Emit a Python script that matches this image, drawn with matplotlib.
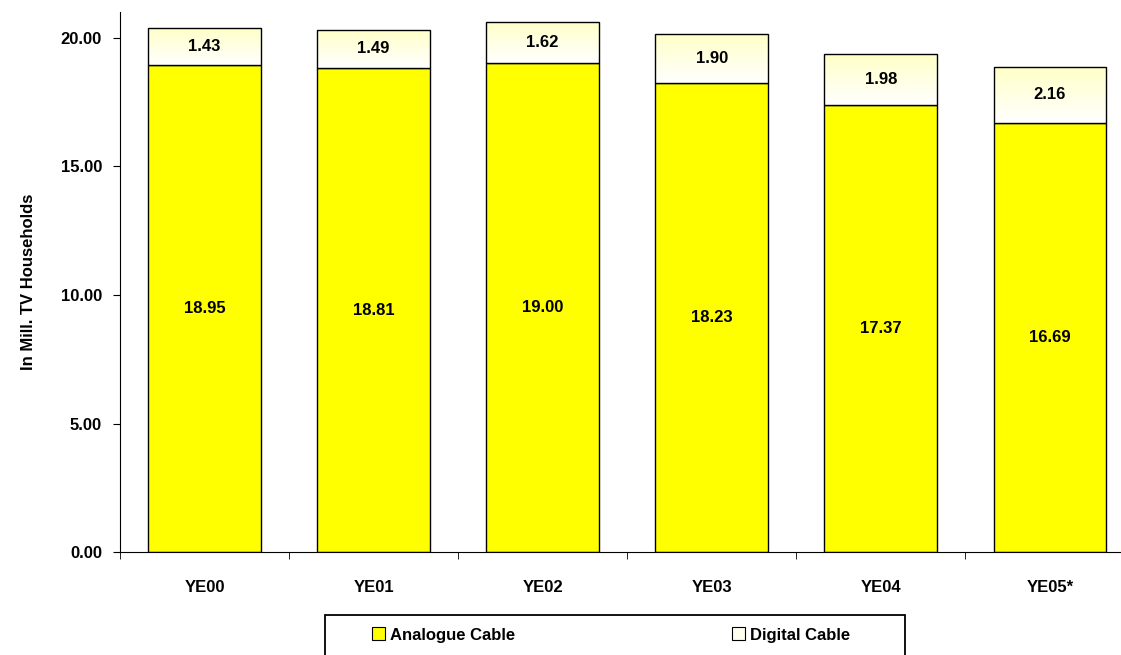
import matplotlib
matplotlib.use("Agg")
import matplotlib.pyplot as plt
import numpy as np
from matplotlib.patches import Patch, Rectangle
from matplotlib.colors import LinearSegmentedColormap

categories = ["YE00", "YE01", "YE02", "YE03", "YE04", "YE05*"]
analogue = [18.95, 18.81, 19.00, 18.23, 17.37, 16.69]
digital = [1.43, 1.49, 1.62, 1.90, 1.98, 2.16]
yticks = [0, 5, 10, 15, 20]

plt.rcParams['font.family'] = ['Liberation Sans', 'DejaVu Sans']
plt.rcParams['font.weight'] = 'bold'

W, H = 1121, 655
fig = plt.figure(figsize=(W / 100, H / 100), dpi=100)
ax = fig.add_axes([0.107, 0.157, 0.905, 0.825])

x = np.arange(len(categories))
w = 0.667
yellow = "#FFFF00"
ax.bar(x, analogue, w, color=yellow, edgecolor="black", linewidth=1.0, zorder=2)
bars_d = ax.bar(x, digital, w, bottom=analogue, color="white", edgecolor="black", linewidth=1.0, zorder=3)

grad = np.linspace(0, 1, 64).reshape(-1, 1)
cmap = LinearSegmentedColormap.from_list("g", ["#FFFFFF", "#FFFFC8"])
for b in bars_d:
    x0, y0 = b.get_x(), b.get_y()
    im = ax.imshow(grad, extent=[x0, x0 + b.get_width(), y0, y0 + b.get_height()],
                   origin="lower", cmap=cmap, aspect="auto", zorder=2.5)
    im.set_clip_path(b)
    b.set_facecolor("none")

for i in range(len(categories)):
    ax.text(x[i], analogue[i] / 2, f"{analogue[i]:.2f}", ha="center", va="center",
            fontsize=12, fontweight="bold", zorder=5)
    ax.text(x[i], analogue[i] + digital[i] / 2, f"{digital[i]:.2f}", ha="center", va="center",
            fontsize=12, fontweight="bold", zorder=5)

ax.set_xlim(-0.5, 5.46)
ax.set_ylim(0, 21)
ax.set_yticks(yticks)
ax.set_yticklabels([f"{v:.2f}" for v in yticks], fontsize=12, fontweight="bold")
ax.set_xticks(x)
ax.set_xticklabels(categories, fontsize=12, fontweight="bold")
ax.tick_params(axis="x", length=0, pad=20)
ax.set_xticks(np.arange(-0.5, 5.6, 1), minor=True)
ax.tick_params(axis="x", which="minor", length=5, direction="out")
ax.tick_params(axis="y", length=5, direction="out", pad=8)
ax.spines["top"].set_visible(False)
ax.spines["right"].set_visible(False)
ax.set_ylabel("In Mill. TV Households", fontsize=12, fontweight="bold", labelpad=18)

# legend frame
fig.patches.append(Rectangle((325 / W, -5 / H), 580 / W, 620 / H - (-5 / H) - 0 * 1, transform=fig.transFigure,
                             facecolor="white", edgecolor="black", linewidth=1.3, zorder=1))
fig.patches[-1].set_height((5 + 40) / H)
handles = [Patch(facecolor=yellow, edgecolor="black", linewidth=0.8),
           Patch(facecolor="#FFFFF0", edgecolor="black", linewidth=0.8)]
leg = fig.legend(handles, ["Analogue Cable", "Digital Cable"], loc="center left",
                 bbox_to_anchor=(372 / W, 1 - 635 / H), ncol=2, frameon=False, fontsize=12,
                 handlelength=0.8, handleheight=0.8, handletextpad=0.3, columnspacing=13.0,
                 borderaxespad=0, borderpad=0)
for t in leg.get_texts():
    t.set_fontweight("bold")

fig.savefig("out.png", dpi=100)
